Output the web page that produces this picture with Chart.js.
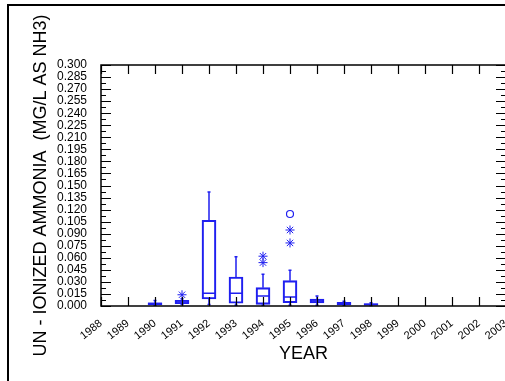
<!DOCTYPE html>
<html lang="en">
<head>
    <meta charset="UTF-8">
    <title>Un-ionized Ammonia by Year</title>
    <style>
        body {
            margin: 0;
            background: #fff;
            overflow: hidden;
            font-family: "Liberation Sans", Arial, sans-serif;
        }
        .frame {
            position: absolute;
            left: 7px;
            top: 4px;
            width: 600px;
            height: 600px;
            border: 2px solid #000;
        }
        .wrap {
            position: absolute;
            left: 0;
            top: 0;
            width: 512px;
            height: 381px;
        }
    </style>
</head>
<body>
    <div class="frame"></div>
    <div class="wrap"><canvas id="chart"></canvas></div>

    <script src="https://cdn.jsdelivr.net/npm/chart.js"></script>
    <script>
        const years = ['1988', '1989', '1990', '1991', '1992', '1993', '1994', '1995',
                       '1996', '1997', '1998', '1999', '2000', '2001', '2002', '2003'];

        // box plot statistics per sampled year
        const boxYears    = ['1990', '1991', '1992', '1993', '1994', '1995', '1996', '1997', '1998'];
        const whiskerLow  = [0.001, 0.002, 0.002, 0.001, 0.001, 0.001, 0.001, 0.001, 0.0005];
        const q1          = [0.0015, 0.003, 0.0087, 0.0034, 0.0021, 0.0041, 0.0037, 0.0012, 0.0009];
        const median      = [0.003, 0.005, 0.0158, 0.0158, 0.0125, 0.0112, 0.0062, 0.003, 0.002];
        const q3          = [0.004, 0.0071, 0.1067, 0.0361, 0.0228, 0.0315, 0.0087, 0.0046, 0.0029];
        const whiskerHigh = [0.007, 0.009, 0.142, 0.0614, 0.0395, 0.0444, 0.0124, 0.006, 0.004];

        // outliers
        const starX   = ['1991', '1994', '1994', '1995', '1995'];
        const starY   = [0.014, 0.062, 0.054, 0.0946, 0.0785];
        const circleX = ['1995'];
        const circleY = [0.1145];

        const yMin = 0, yMax = 0.3, yStep = 0.015;
        const BLUE = '#1f1ff0';

        const boxData = years.map(yr => {
            const i = boxYears.indexOf(yr);
            return i < 0 ? null : [q1[i], q3[i]];
        });

        const boxExtras = {
            id: 'boxExtras',
            afterDatasetsDraw(chart) {
                const {ctx, scales: {x, y}} = chart;
                ctx.save();
                ctx.strokeStyle = BLUE;
                ctx.lineWidth = 1.5;
                boxYears.forEach((yr, i) => {
                    const px = x.getPixelForValue(years.indexOf(yr));
                    const half = 7;
                    ctx.beginPath();
                    // whiskers
                    ctx.moveTo(px, y.getPixelForValue(q3[i]));
                    ctx.lineTo(px, y.getPixelForValue(whiskerHigh[i]));
                    ctx.moveTo(px, y.getPixelForValue(q1[i]));
                    ctx.lineTo(px, y.getPixelForValue(whiskerLow[i]));
                    // caps
                    ctx.moveTo(px - 1.5, y.getPixelForValue(whiskerHigh[i]));
                    ctx.lineTo(px + 1.5, y.getPixelForValue(whiskerHigh[i]));
                    ctx.moveTo(px - 1.5, y.getPixelForValue(whiskerLow[i]));
                    ctx.lineTo(px + 1.5, y.getPixelForValue(whiskerLow[i]));
                    // median
                    ctx.moveTo(px - half, y.getPixelForValue(median[i]));
                    ctx.lineTo(px + half, y.getPixelForValue(median[i]));
                    ctx.stroke();
                });
                ctx.restore();
            },
            afterDraw(chart) {
                const {ctx, chartArea: a, scales: {x, y}} = chart;
                ctx.save();
                ctx.strokeStyle = '#000';
                ctx.lineWidth = 1.5;
                ctx.strokeRect(a.left, a.top, a.right - a.left, a.bottom - a.top);
                ctx.lineWidth = 1.2;
                ctx.beginPath();
                years.forEach((yr, i) => {
                    const px = Math.round(x.getPixelForValue(i)) + 0.5;
                    ctx.moveTo(px, a.bottom);
                    ctx.lineTo(px, a.bottom - 9);
                    ctx.moveTo(px, a.top);
                    ctx.lineTo(px, a.top + 9);
                });
                const n = Math.round((yMax - yMin) / (yStep / 2));
                for (let k = 0; k <= n; k++) {
                    const py = Math.round(y.getPixelForValue(yMin + k * yStep / 2)) + 0.5;
                    const len = k % 2 === 0 ? 10 : 5;
                    ctx.moveTo(a.left, py);
                    ctx.lineTo(a.left + len, py);
                    ctx.moveTo(a.right, py);
                    ctx.lineTo(a.right - len, py);
                }
                ctx.stroke();
                ctx.restore();
            }
        };

        const ctx = document.getElementById('chart').getContext('2d');
        new Chart(ctx, {
            type: 'bar',
            data: {
                labels: years,
                datasets: [{
                    label: 'Box',
                    data: boxData,
                    backgroundColor: 'rgba(0,0,0,0)',
                    borderColor: BLUE,
                    borderWidth: 1.5,
                    borderSkipped: false,
                    barThickness: 14
                }, {
                    type: 'scatter',
                    label: 'Outliers',
                    data: starX.map((yr, i) => ({x: yr, y: starY[i]})),
                    pointStyle: 'star',
                    radius: 4.5,
                    borderColor: BLUE,
                    borderWidth: 1
                }, {
                    type: 'scatter',
                    label: 'Far outliers',
                    data: circleX.map((yr, i) => ({x: yr, y: circleY[i]})),
                    pointStyle: 'circle',
                    radius: 3.5,
                    backgroundColor: 'rgba(0,0,0,0)',
                    borderColor: BLUE,
                    borderWidth: 1.2
                }]
            },
            options: {
                responsive: true,
                maintainAspectRatio: false,
                animation: false,
                layout: { padding: { top: 65, right: 6, left: 0, bottom: 0 } },
                plugins: {
                    legend: { display: false },
                    tooltip: { enabled: false }
                },
                scales: {
                    x: {
                        type: 'category',
                        offset: false,
                        grid: { display: false },
                        border: { display: false },
                        ticks: {
                            autoSkip: false,
                            maxRotation: 38,
                            minRotation: 38,
                            padding: 3,
                            color: '#000',
                            font: { family: 'Liberation Sans, Arial', size: 11 }
                        },
                        title: {
                            display: true,
                            text: 'YEAR',
                            color: '#000',
                            font: { family: 'Liberation Sans, Arial', size: 18 },
                            padding: { top: 0, bottom: 16 }
                        },
                        afterFit(s) {
                            s.height = 75;
                            s.paddingLeft = 0;
                            s.paddingRight = 0;
                        }
                    },
                    y: {
                        min: yMin,
                        max: yMax,
                        grid: { display: false },
                        border: { display: false },
                        ticks: {
                            stepSize: yStep,
                            autoSkip: false,
                            padding: 6,
                            color: '#000',
                            font: { family: 'Liberation Sans, Arial', size: 12 },
                            callback: v => v.toFixed(3)
                        },
                        title: {
                            display: true,
                            text: 'UN - IONIZED AMMONIA  (MG/L AS NH3)',
                            color: '#000',
                            font: { family: 'Liberation Sans, Arial', size: 18 },
                            padding: { top: 30, bottom: 0 }
                        },
                        afterFit(s) {
                            s.width = 101;
                        }
                    }
                }
            },
            plugins: [boxExtras]
        });
    </script>
</body>
</html>
